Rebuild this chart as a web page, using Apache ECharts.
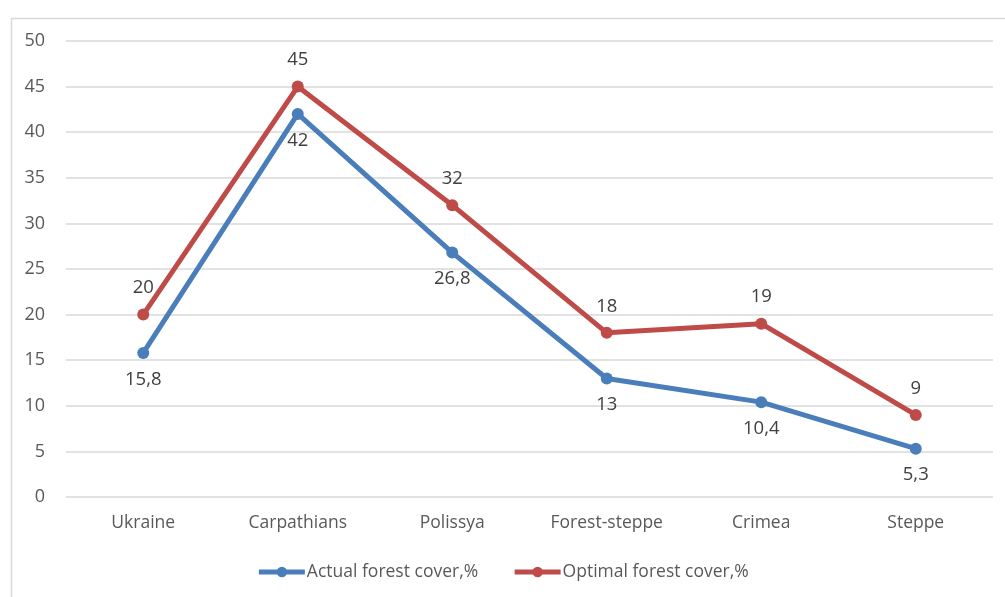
<!DOCTYPE html>
<html><head><meta charset="utf-8">
<script src="https://cdn.jsdelivr.net/npm/echarts@6/dist/echarts.min.js"></script>
<style>html,body{margin:0;padding:0;background:#fff}#c{width:1005px;height:597px}</style>
</head><body><div id="c"></div>
<script>
const categories = ['Ukraine','Carpathians','Polissya','Forest-steppe','Crimea','Steppe'];
const actual = [15.8, 42, 26.8, 13, 10.4, 5.3];
const optimal = [20, 45, 32, 18, 19, 9];
const seriesNames = ['Actual forest cover,%','Optimal forest cover,%'];
const fmt = p => String(p.value).replace('.', ',');
const font = 'Open Sans, Noto Sans, sans-serif';
const chart = echarts.init(document.getElementById('c'));
chart.setOption({
  animation: false,
  textStyle: {fontFamily: font},
  graphic: [{type:'rect', left:9, top:16, shape:{width:1010, height:600}, style:{fill:'none', stroke:'#d9d9d9', lineWidth:1.5}, silent:true}],
  grid: {left:66, right:12, top:41, bottom:100, containLabel:false},
  legend: {
    bottom: 11, left: 'center', itemWidth: 46, itemHeight: 13, itemGap: 34,
    lineStyle: {width: 5},
    textStyle: {color:'#595959', fontSize:17.5, fontFamily: font, padding:[0,0,0,-3]},
    data: seriesNames
  },
  xAxis: {
    type:'category', data: categories, boundaryGap:true,
    axisLine:{show:false}, axisTick:{show:false},
    axisLabel:{color:'#595959', fontSize:17.5, margin:17, fontFamily: font}
  },
  yAxis: {
    type:'value', min:0, max:50, interval:5,
    axisLine:{show:false}, axisTick:{show:false},
    axisLabel:{color:'#595959', fontSize:18, margin:21, fontFamily: font},
    splitLine:{lineStyle:{color:'#d9d9d9', width:1.5}}
  },
  series: [
    {name: seriesNames[0], type:'line', data: actual, symbol:'circle', symbolSize:12,
     lineStyle:{width:5, color:'#4a7ebb'}, itemStyle:{color:'#4a7ebb'},
     label:{show:true, position:'bottom', distance:11, color:'#404040', fontSize:18.5, formatter: fmt}},
    {name: seriesNames[1], type:'line', data: optimal, symbol:'circle', symbolSize:12,
     lineStyle:{width:5, color:'#be4b48'}, itemStyle:{color:'#be4b48'},
     label:{show:true, position:'top', distance:11, color:'#404040', fontSize:18.5, formatter: fmt}}
  ]
});
</script></body></html>
